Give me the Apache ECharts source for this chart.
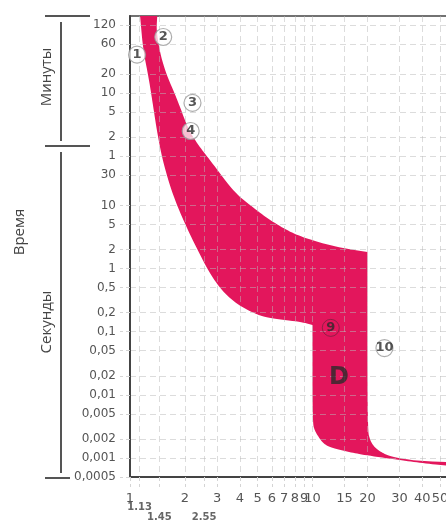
<!DOCTYPE html>
<html>
<head>
<meta charset="utf-8">
<script src="https://cdn.jsdelivr.net/npm/echarts@6/dist/echarts.min.js"></script>
<style>
  html, body { margin: 0; padding: 0; background: #fff; }
  #chart { width: 446px; height: 528px; }
</style>
</head>
<body>
<div id="chart"></div>
<script>
// ось I/In
const xTicks = [1, 2, 3, 4, 5, 6, 7, 8, 9, 10, 15, 20, 30, 40, 50];
const xSubTicks = [1.13, 1.45, 2.55];
// ось времени, в секундах (120 мин ... 0,0005 с)
const yTicks = [7200, 3600, 1200, 600, 300, 120, 60, 30, 10, 5, 2, 1, 0.5, 0.2, 0.1, 0.05, 0.02, 0.01, 0.005, 0.002, 0.001, 0.0005];
const yTickLabels = ['120', '60', '20', '10', '5', '2', '1', '30', '10', '5', '2', '1', '0,5', '0,2', '0,1', '0,05', '0,02', '0,01', '0,005', '0,002', '0,001', '0,0005'];

// нижняя граница характеристики D  [I/In, t, c]
const minCurve = [
  [1.136, 10000], [1.18, 2900], [1.258, 1160], [1.323, 470], [1.41, 140], [1.52, 47],
  [1.73, 13.6], [2.07, 4.1], [2.35, 1.97], [2.67, 0.95], [3.15, 0.46], [3.9, 0.265],
  [4.9, 0.19], [5.7, 0.165], [8.7, 0.143], [10, 0.128], [10, 0.0036], [10.3, 0.0027],
  [10.8, 0.00215], [11.5, 0.00167], [12.8, 0.00144], [15.9, 0.00124], [19.4, 0.00111],
  [30, 0.00093], [40, 0.00083], [56, 0.00075]
];
// верхняя граница характеристики D
const maxCurve = [
  [1.41, 10000], [1.393, 5400], [1.52, 1560], [1.82, 470], [2.09, 157], [2.41, 84],
  [2.77, 50.5], [3.71, 16.3], [4.61, 9.8], [5.72, 6.1], [7.2, 4.08], [8.72, 3.16],
  [13.3, 2.2], [20, 1.83],
  [20, 0.0028], [20.7, 0.0019], [21.8, 0.00149], [24.1, 0.0012], [27.4, 0.00104],
  [36.8, 0.0009], [56, 0.00086]
];

// номера в кружках
const markNames = ['1', '2', '3', '4', '9', '10'];
const markX = [1.093, 1.52, 2.2, 2.15, 12.6, 24.8];
const markT = [2440, 4650, 420, 151, 0.115, 0.055];
const bandLabel = ['D', 13.96, 0.0185];

const lg = Math.log10;
const band = minCurve.concat(maxCurve.slice().reverse());

const chart = echarts.init(document.getElementById('chart'));

const labelFont = 'DejaVu Sans';
const gridDash = { color: 'rgba(185,185,185,0.5)', type: [6, 4], width: 1 };
const tickDash = { color: '#d4d4d4', type: [4, 3], width: 1 };

const yLabel = (v) => {
  let best = 0;
  yTicks.forEach((t, i) => {
    if (Math.abs(lg(t) - v) < Math.abs(lg(yTicks[best]) - v)) best = i;
  });
  return yTickLabels[best];
};

const xLabel = (v) => {
  const val = Math.pow(10, v);
  const sub = xSubTicks.find(s => Math.abs(s - val) < 0.005);
  if (sub !== undefined) {
    return (sub === 1.13 ? '{a|' : '{b|') + sub.toFixed(2) + '}';
  }
  return String(Math.round(val));
};

// сглаживание контура (только отрисовка), острые углы сохраняются
const smoothOutline = (pts) => {
  const n = pts.length;
  const out = [];
  for (let i = 0; i < n; i++) {
    const p0 = pts[(i - 1 + n) % n], p1 = pts[i], p2 = pts[(i + 1) % n];
    const a1 = Math.atan2(p1[1] - p0[1], p1[0] - p0[0]);
    const a2 = Math.atan2(p2[1] - p1[1], p2[0] - p1[0]);
    let d = Math.abs(a2 - a1);
    if (d > Math.PI) d = 2 * Math.PI - d;
    if (d > 1.0) { out.push(p1); continue; }
    const m0 = [(p0[0] + p1[0]) / 2, (p0[1] + p1[1]) / 2];
    const m1 = [(p1[0] + p2[0]) / 2, (p1[1] + p2[1]) / 2];
    for (let k = 0; k <= 8; k++) {
      const t = k / 8, u = 1 - t;
      out.push([
        u * u * m0[0] + 2 * u * t * p1[0] + t * t * m1[0],
        u * u * m0[1] + 2 * u * t * p1[1] + t * t * m1[1]
      ]);
    }
  }
  return out;
};

const options = {
  animation: false,
  grid: {
    left: 130, right: -3, top: 16, bottom: 51,
    outerBoundsMode: 'none',
    containLabel: false,
    show: true, borderColor: '#444', borderWidth: 1.5
  },
  xAxis: {
    type: 'value',
    z: 3,
    min: 0,
    max: lg(56),
    name: 'I/In',
    nameLocation: 'middle',
    nameGap: 30,
    nameTextStyle: { fontFamily: 'Liberation Serif', fontSize: 16, color: '#444' },
    axisLine: { onZero: false, lineStyle: { color: '#444', width: 2 } },
    axisTick: {
      show: true, length: 10,
      customValues: xTicks.concat(xSubTicks).map(lg),
      lineStyle: tickDash
    },
    axisLabel: {
      customValues: xTicks.concat(xSubTicks).map(lg),
      formatter: xLabel,
      margin: 15,
      color: '#555',
      fontFamily: labelFont,
      fontSize: 13,
      rich: {
        a: { fontSize: 10, fontWeight: 'bold', color: '#666', padding: [10, 0, 0, 0], fontFamily: labelFont },
        b: { fontSize: 10, fontWeight: 'bold', color: '#666', padding: [20, 0, 0, 0], fontFamily: labelFont }
      }
    },
    splitLine: { show: true, lineStyle: gridDash }
  },
  yAxis: {
    type: 'value',
    z: 3,
    min: lg(0.0005),
    max: 4,
    axisLine: { show: true, onZero: false, lineStyle: { color: '#444', width: 2 } },
    axisTick: {
      show: true, length: 10,
      customValues: yTicks.map(lg),
      lineStyle: tickDash
    },
    axisLabel: {
      customValues: yTicks.map(lg),
      formatter: yLabel,
      margin: 14,
      color: '#555',
      fontFamily: labelFont,
      fontSize: 12
    },
    splitLine: { show: true, lineStyle: gridDash }
  },
  series: [
    {
      type: 'custom',
      clip: true,
      data: [[0, 0]],
      renderItem: (params, api) => ({
        type: 'polygon',
        shape: { points: smoothOutline(band.map(p => api.coord([lg(p[0]), lg(p[1])]))) },
        style: { fill: '#E3165C' }
      }),
      z: 2
    },
    {
      type: 'scatter',
      z: 5,
      symbol: 'circle',
      symbolSize: 17,
      data: markNames.map((n, i) => ({
        name: n,
        value: [lg(markX[i]), lg(markT[i])],
        itemStyle: n === '9'
          ? { color: 'rgba(0,0,0,0)', borderColor: '#7a2040', borderWidth: 1 }
          : { color: 'rgba(255,255,255,0.9)', borderColor: '#999', borderWidth: 1.2 }
      })),
      label: {
        show: true,
        position: 'inside',
        formatter: (p) => p.name,
        color: '#2a2a2a',
        fontWeight: 'bold',
        fontSize: 13,
        fontFamily: labelFont
      }
    },
    {
      type: 'scatter',
      z: 5,
      symbolSize: 1,
      itemStyle: { color: 'rgba(0,0,0,0)' },
      data: [{ name: bandLabel[0], value: [lg(bandLabel[1]), lg(bandLabel[2])] }],
      label: {
        show: true,
        position: 'inside',
        formatter: (p) => p.name,
        color: '#2a2a2a',
        fontWeight: 'bold',
        fontSize: 24,
        fontFamily: labelFont
      }
    }
  ],
  graphic: [
    { type: 'line', shape: { x1: 45, y1: 16, x2: 90, y2: 16 }, style: { stroke: '#555', lineWidth: 2 } },
    { type: 'line', shape: { x1: 61, y1: 22, x2: 61, y2: 141 }, style: { stroke: '#555', lineWidth: 2 } },
    { type: 'line', shape: { x1: 45, y1: 146, x2: 90, y2: 146 }, style: { stroke: '#555', lineWidth: 2 } },
    { type: 'line', shape: { x1: 61, y1: 152, x2: 61, y2: 473 }, style: { stroke: '#555', lineWidth: 2 } },
    { type: 'line', shape: { x1: 45, y1: 478, x2: 70, y2: 478 }, style: { stroke: '#555', lineWidth: 2 } },
    {
      type: 'text', x: 47, y: 77, rotation: Math.PI / 2,
      style: { text: 'Минуты', font: '15px "Open Sans"', fill: '#444', align: 'center', verticalAlign: 'middle' }
    },
    {
      type: 'text', x: 47, y: 322, rotation: Math.PI / 2,
      style: { text: 'Секунды', font: '15px "Open Sans"', fill: '#444', align: 'center', verticalAlign: 'middle' }
    },
    {
      type: 'text', x: 20, y: 232, rotation: Math.PI / 2,
      style: { text: 'Время', font: '15px "Open Sans"', fill: '#444', align: 'center', verticalAlign: 'middle' }
    }
  ]
};

chart.setOption(options);
</script>
</body>
</html>
